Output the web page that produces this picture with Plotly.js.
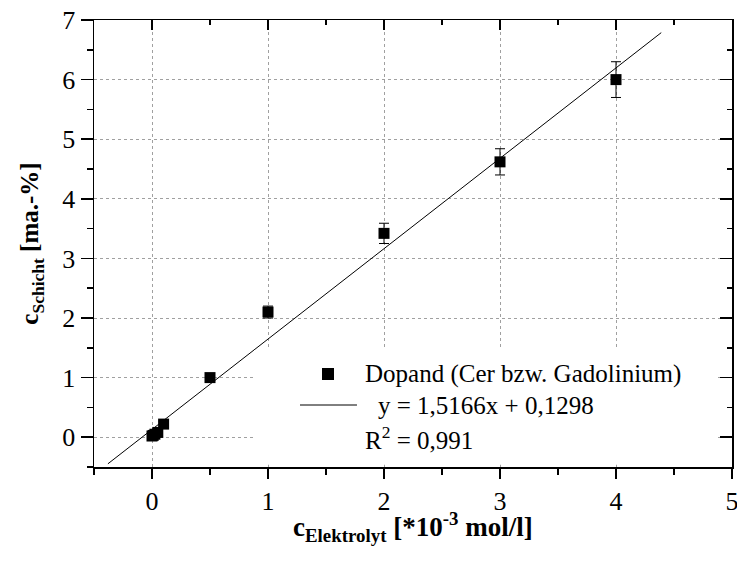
<!DOCTYPE html>
<html>
<head>
<meta charset="utf-8">
<script src="https://cdn.plot.ly/plotly-3.0.1.min.js"></script>
<style>
  html, body { margin: 0; padding: 0; background: #fff; }
  #chart { width: 737px; height: 561px; }
</style>
</head>
<body>
<div id="chart"></div>
<script>
// Electrolyte concentration (*10^-3 mol/l) vs. dopant content in the layer (ma.-%)
const cElektrolyt = [0, 0.01, 0.025, 0.05, 0.1, 0.5, 1, 2, 3, 4];
const cSchicht    = [0.02, 0.03, 0.05, 0.08, 0.22, 1.0, 2.1, 3.42, 4.62, 6.0];
const cFehler     = [0.02, 0.02, 0.02, 0.03, 0.05, 0.05, 0.1, 0.17, 0.22, 0.3];

// Linear regression as stated in the legend
const fitSlope = 1.5166;
const fitIntercept = 0.1298;
const fitXRange = [-0.38, 4.39];
const fitY = fitXRange.map(x => fitSlope * x + fitIntercept);

const xTicks = [0, 1, 2, 3, 4, 5];
const yTicks = [0, 1, 2, 3, 4, 5, 6, 7];
const xRange = [-0.5, 5];
const yRange = [-0.5, 7];

const serif = "'Liberation Serif', 'Times New Roman', Times, serif";

const traces = [
  {
    x: cElektrolyt, y: cSchicht, type: 'scatter', mode: 'markers',
    marker: { symbol: 'square', size: 11, color: '#000' },
    error_y: { type: 'data', array: cFehler, visible: true, color: '#000', thickness: 1, width: 5 },
    showlegend: false, hoverinfo: 'x+y'
  },
  {
    x: fitXRange, y: fitY, type: 'scatter', mode: 'lines',
    line: { color: '#000', width: 1 },
    xaxis: 'x2', yaxis: 'y2', showlegend: false, hoverinfo: 'skip'
  }
];

const baseAxis = {
  showline: true, linecolor: '#000', linewidth: 1.5,
  zeroline: false, mirror: false,
  tickfont: { family: serif, size: 26, color: '#000' },
  tickcolor: '#000', tickwidth: 1.5,
  ticklabeloverflow: 'allow'
};

const layout = {
  width: 737, height: 561,
  margin: { l: 94, r: 5, t: 20, b: 94 },
  paper_bgcolor: '#fff', plot_bgcolor: '#fff',
  font: { family: serif, color: '#000' },
  xaxis: Object.assign({}, baseAxis, {
    range: xRange, tickmode: 'array', tickvals: xTicks, ticktext: xTicks.map(String),
    ticks: 'outside', ticklen: 10,
    minor: { dtick: 0.5, tick0: 0, ticks: 'outside', ticklen: 6, tickcolor: '#000', tickwidth: 1.5, showgrid: false },
    showgrid: true, gridcolor: '#a0a0a0', griddash: 'dot', gridwidth: 1
  }),
  yaxis: Object.assign({}, baseAxis, {
    range: yRange, tickmode: 'array', tickvals: yTicks, ticktext: yTicks.map(String),
    ticks: 'outside', ticklen: 12,
    minor: { dtick: 0.5, tick0: 0, ticks: 'outside', ticklen: 6, tickcolor: '#000', tickwidth: 1.5, showgrid: false },
    showgrid: true, gridcolor: '#a0a0a0', griddash: 'dot', gridwidth: 1,
    title: { text: '<b>c<sub>Schicht</sub> [ma.-%]</b>', font: { family: serif, size: 25, color: '#000' }, standoff: 16 }
  }),
  xaxis2: Object.assign({}, baseAxis, {
    range: xRange, overlaying: 'x', anchor: 'y2', side: 'top',
    tickmode: 'array', tickvals: xTicks, showticklabels: false,
    ticks: 'inside', ticklen: 10,
    minor: { dtick: 0.5, tick0: 0, ticks: 'inside', ticklen: 5, tickcolor: '#000', tickwidth: 1.5, showgrid: false },
    showgrid: false
  }),
  yaxis2: Object.assign({}, baseAxis, {
    range: yRange, overlaying: 'y', anchor: 'x2', side: 'right',
    tickmode: 'array', tickvals: yTicks, showticklabels: false,
    ticks: 'inside', ticklen: 12,
    minor: { dtick: 0.5, tick0: 0, ticks: 'inside', ticklen: 5, tickcolor: '#000', tickwidth: 1.5, showgrid: false },
    showgrid: false
  }),
  shapes: [
    // legend background hides the grid underneath
    { type: 'rect', xref: 'paper', yref: 'paper', x0: 0.2508, x1: 0.974, y0: 0.005, y1: 0.2617,
      fillcolor: '#fff', line: { width: 0 }, layer: 'above' },
    // legend symbol: data marker
    { type: 'rect', xref: 'paper', yref: 'paper', x0: 0.3574, x1: 0.3762, y0: 0.1946, y1: 0.2215,
      fillcolor: '#000', line: { width: 0 }, layer: 'above' },
    // legend symbol: fit line
    { type: 'line', xref: 'paper', yref: 'paper', x0: 0.3229, x1: 0.4122, y0: 0.1387, y1: 0.1387,
      line: { color: '#000', width: 1 }, layer: 'above' }
  ],
  annotations: [
    // x-axis title
    { xref: 'paper', yref: 'paper', x: 0.5, y: -0.134, xanchor: 'center', yanchor: 'middle',
      text: '<b>c<sub>Elektrolyt</sub> [*10<sup>-3</sup> mol/l]</b>', showarrow: false,
      font: { family: serif, size: 27, color: '#000' } },
    // legend entries
    { xref: 'paper', yref: 'paper', x: 0.4216, y: 0.2081, xanchor: 'left', yanchor: 'middle',
      text: 'Dopand (Cer bzw. Gadolinium)', showarrow: false, font: { family: serif, size: 25, color: '#000' } },
    { xref: 'paper', yref: 'paper', x: 0.442, y: 0.1365, xanchor: 'left', yanchor: 'middle',
      text: 'y = 1,5166x + 0,1298', showarrow: false, font: { family: serif, size: 25, color: '#000' } },
    { xref: 'paper', yref: 'paper', x: 0.4216, y: 0.0649, xanchor: 'left', yanchor: 'middle',
      text: 'R<sup>2</sup> = 0,991', showarrow: false, font: { family: serif, size: 25, color: '#000' } }
  ]
};

Plotly.newPlot('chart', traces, layout, { displayModeBar: false, staticPlot: true });
</script>
</body>
</html>
